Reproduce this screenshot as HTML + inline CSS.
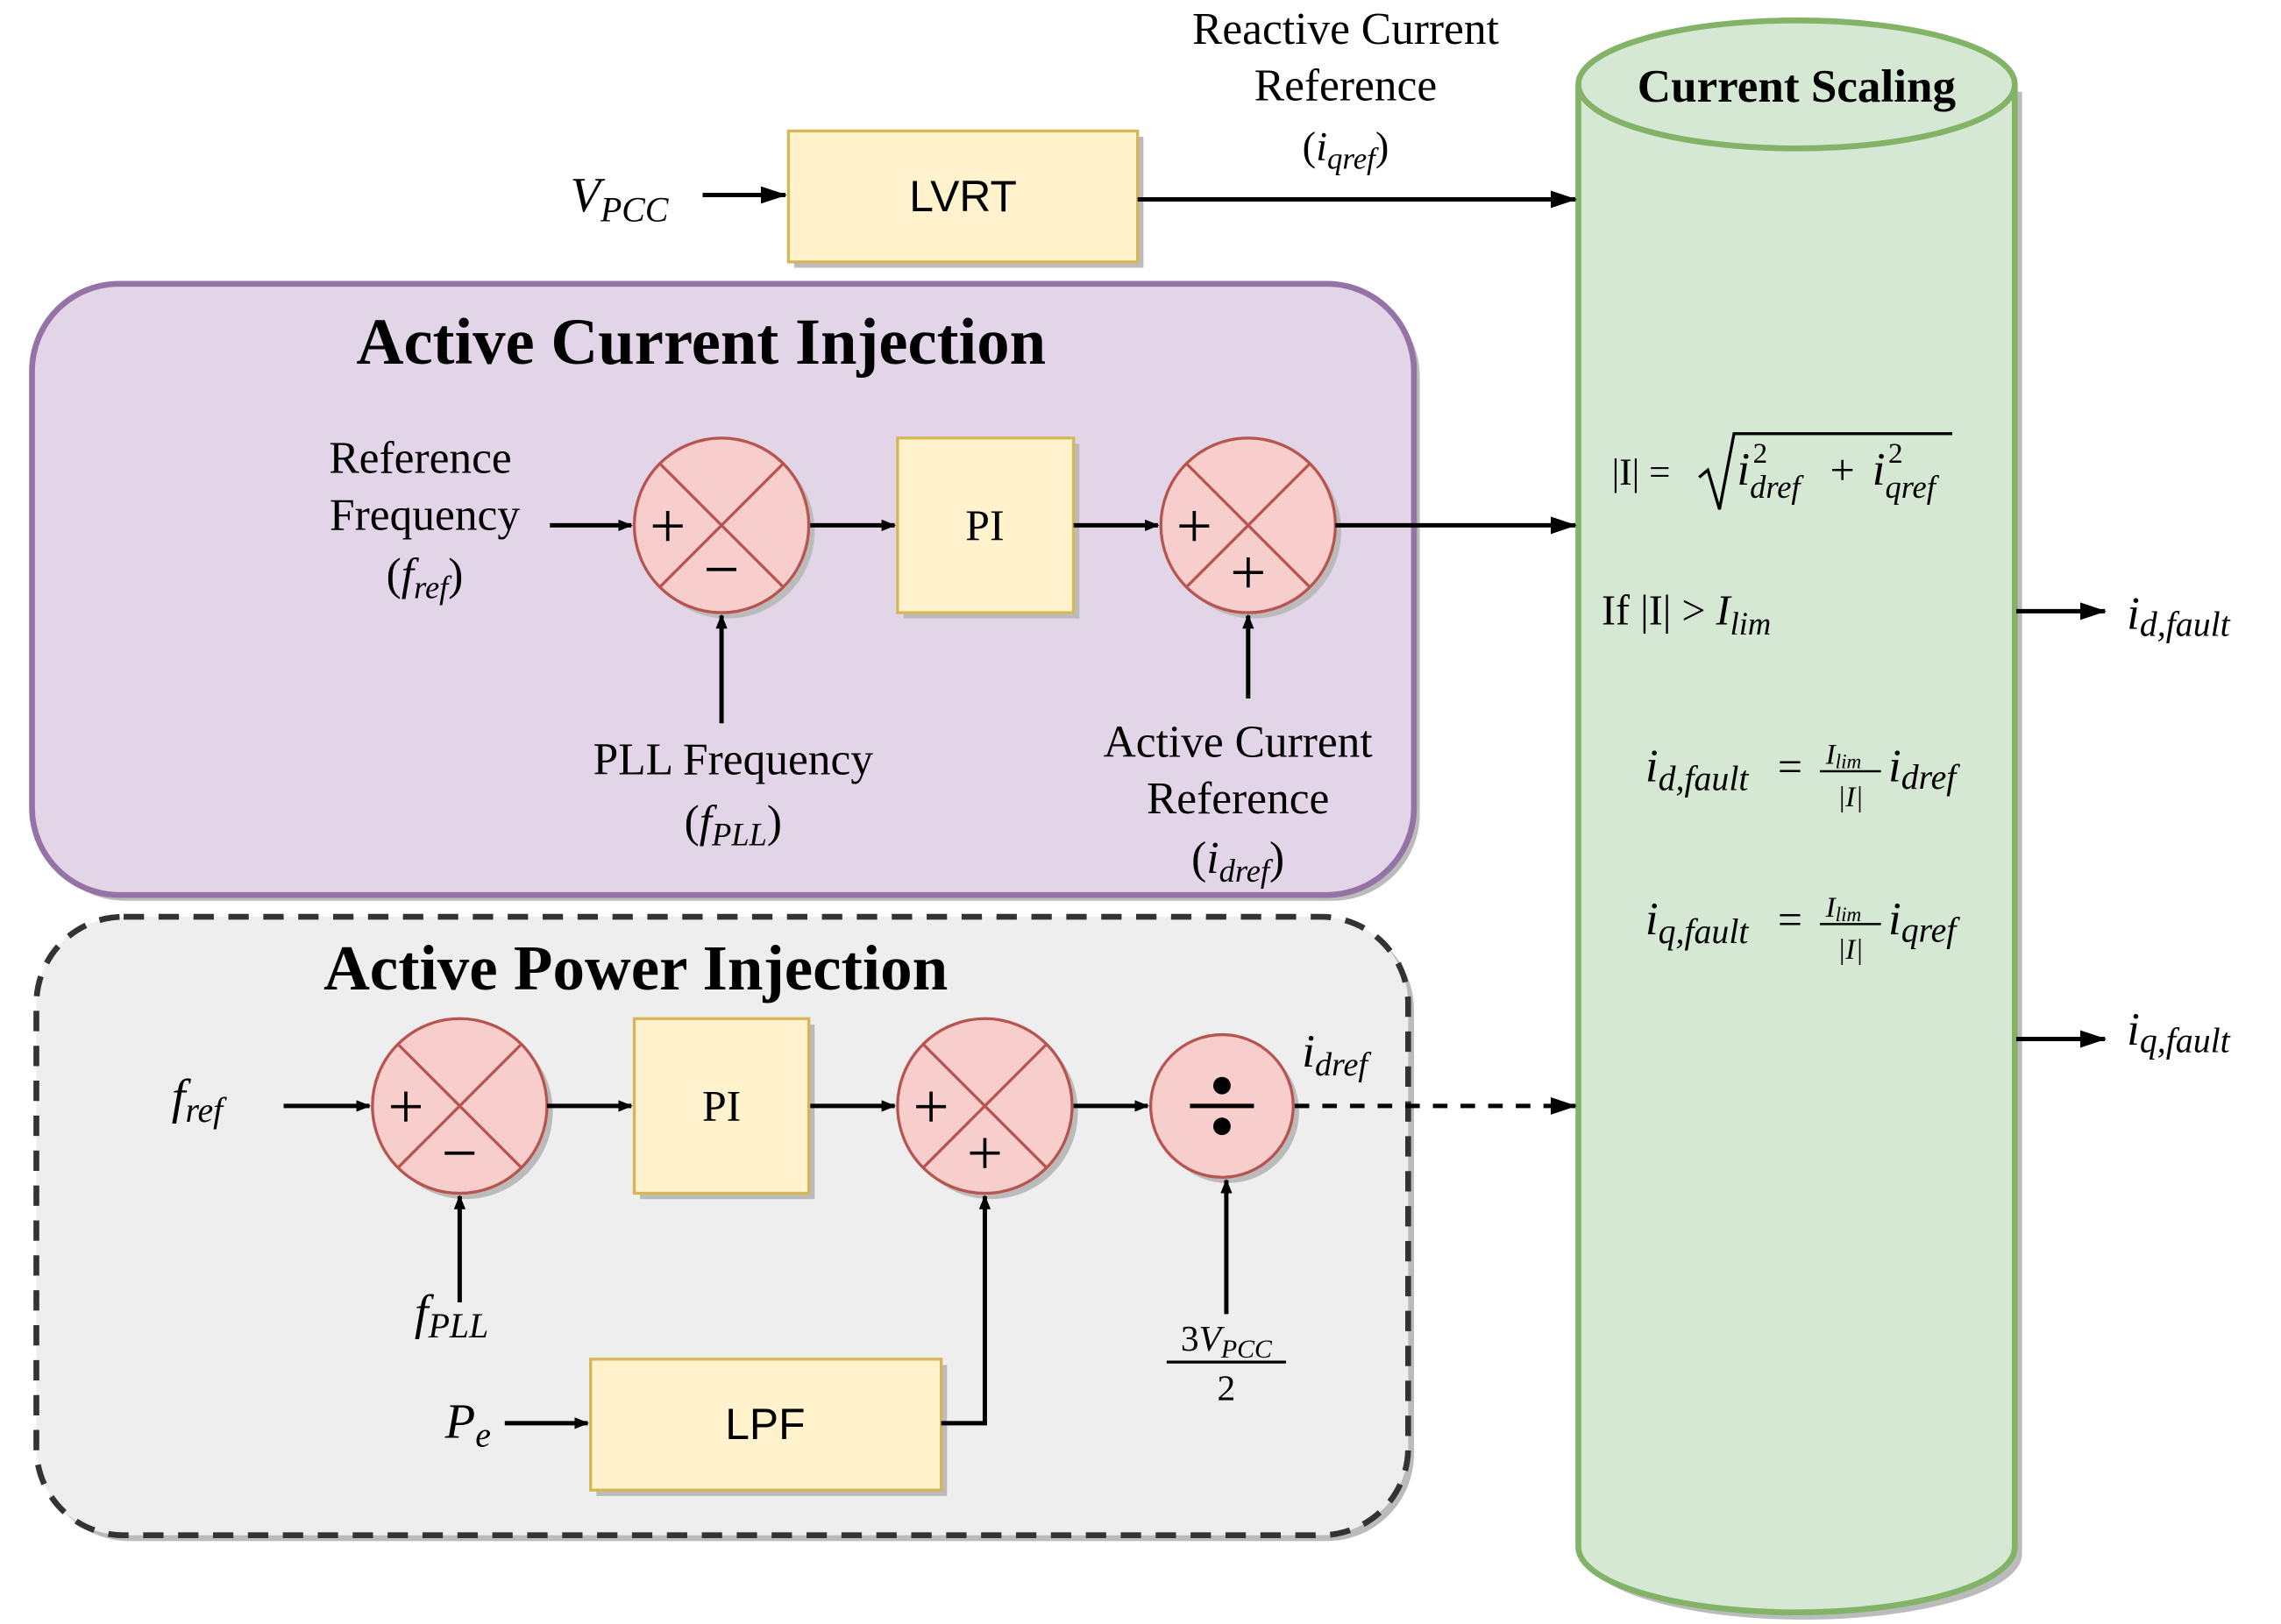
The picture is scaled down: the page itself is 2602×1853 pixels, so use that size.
<!DOCTYPE html>
<html><head><meta charset="utf-8"><style>
html,body{margin:0;padding:0;background:#fff}
svg{display:block}
.s{font-family:"Liberation Serif",serif;fill:#000}
.a{font-family:"Liberation Sans",sans-serif;fill:#000}
.i{font-family:"Liberation Serif",serif;font-style:italic;fill:#000}
</style></head><body>
<svg width="2602" height="1853" viewBox="0 0 1568 1116" preserveAspectRatio="none" xmlns="http://www.w3.org/2000/svg">
<defs>
<marker id="ar" markerWidth="10" markerHeight="8" refX="9" refY="4" orient="auto" markerUnits="userSpaceOnUse"><path d="M0,0 L10,4 L0,8 Z" fill="#000"/></marker>
<marker id="ar2" markerWidth="18" markerHeight="12" refX="17" refY="6" orient="auto" markerUnits="userSpaceOnUse"><path d="M0,0 L18,6 L0,12 Z" fill="#000"/></marker>
</defs>
<rect width="1568" height="1116" fill="#fff"/>

<!-- Cylinder -->
<g transform="translate(5,5)" fill="#bbb"><path d="M1085,58 L1085,1063 A150,45 0 0 0 1385,1063 L1385,58 Z"/></g>
<path d="M1085,58 L1085,1063 A150,45 0 0 0 1385,1063 L1385,58" fill="#d5e8d4" stroke="#82b366" stroke-width="4"/>
<ellipse cx="1235" cy="58" rx="150" ry="44" fill="#d5e8d4" stroke="#82b366" stroke-width="4"/>
<text x="1235" y="70" text-anchor="middle" class="s" font-size="32" font-weight="bold">Current Scaling</text>

<!-- LVRT -->
<rect x="546" y="94" width="240" height="90" fill="#bbb"/>
<rect x="542" y="90" width="240" height="90" fill="#fff2cc" stroke="#d6b656" stroke-width="2"/>
<text x="662" y="145" text-anchor="middle" class="a" font-size="30">LVRT</text>
<text x="392" y="145" class="i" font-size="34">V<tspan font-size="24" dy="7">PCC</tspan></text>
<line x1="483" y1="134" x2="540" y2="134" stroke="#000" stroke-width="3" marker-end="url(#ar2)"/>
<line x1="782" y1="137" x2="1083" y2="137" stroke="#000" stroke-width="3" marker-end="url(#ar2)"/>
<text x="925" y="30" text-anchor="middle" class="s" font-size="31">Reactive Current</text>
<text x="925" y="69" text-anchor="middle" class="s" font-size="31">Reference</text>
<text x="925" y="110" text-anchor="middle" class="s" font-size="28">(<tspan font-style="italic">i</tspan><tspan font-style="italic" font-size="21" dy="6">qref</tspan><tspan dy="-6">)</tspan></text>

<!-- Purple box -->
<rect x="26" y="199" width="950" height="420" rx="60" fill="#bbb"/>
<rect x="22" y="195" width="950" height="420" rx="60" fill="#e1d5e7" stroke="#9673a6" stroke-width="4"/>
<text x="482" y="250" text-anchor="middle" class="s" font-size="45" font-weight="bold">Active Current Injection</text>

<!-- Gray dashed box -->
<rect x="29" y="634" width="943" height="425" rx="60" fill="#bbb"/>
<rect x="25" y="630" width="943" height="425" rx="60" fill="#eeeeee" stroke="#333" stroke-width="4" stroke-dasharray="14,10"/>
<text x="437" y="680" text-anchor="middle" class="s" font-size="44" font-weight="bold">Active Power Injection</text>

<!-- sum circles -->
<g stroke="#b85450" stroke-width="2" fill="#f8cecc">
<circle cx="500" cy="365" r="60" fill="#bbb" stroke="none"/><circle cx="496" cy="361" r="60"/>
<line x1="453.6" y1="318.6" x2="538.4" y2="403.4"/><line x1="538.4" y1="318.6" x2="453.6" y2="403.4"/>
<circle cx="862" cy="365" r="60" fill="#bbb" stroke="none"/><circle cx="858" cy="361" r="60"/>
<line x1="815.6" y1="318.6" x2="900.4" y2="403.4"/><line x1="900.4" y1="318.6" x2="815.6" y2="403.4"/>
<circle cx="320" cy="764" r="60" fill="#bbb" stroke="none"/><circle cx="316" cy="760" r="60"/>
<line x1="273.6" y1="717.6" x2="358.4" y2="802.4"/><line x1="358.4" y1="717.6" x2="273.6" y2="802.4"/>
<circle cx="681" cy="764" r="60" fill="#bbb" stroke="none"/><circle cx="677" cy="760" r="60"/>
<line x1="634.6" y1="717.6" x2="719.4" y2="802.4"/><line x1="719.4" y1="717.6" x2="634.6" y2="802.4"/>
<circle cx="844" cy="764" r="49" fill="#bbb" stroke="none"/><circle cx="840" cy="760" r="49"/>
</g>
<g class="s" font-size="44" text-anchor="middle">
<text x="459" y="376">+</text><text x="496" y="406">−</text>
<text x="821" y="376">+</text><text x="858" y="408">+</text>
<text x="279" y="775">+</text><text x="316" y="807">−</text>
<text x="640" y="775">+</text><text x="677" y="807">+</text>
</g>
<line x1="818" y1="760" x2="862" y2="760" stroke="#000" stroke-width="3"/>
<circle cx="840" cy="746" r="6"/><circle cx="840" cy="774" r="6"/>

<!-- PI boxes -->
<rect x="621" y="305" width="121" height="120" fill="#bbb"/>
<rect x="617" y="301" width="121" height="120" fill="#fff2cc" stroke="#d6b656" stroke-width="2"/>
<text x="677" y="371" text-anchor="middle" class="s" font-size="30">PI</text>
<rect x="440" y="704" width="120" height="120" fill="#bbb"/>
<rect x="436" y="700" width="120" height="120" fill="#fff2cc" stroke="#d6b656" stroke-width="2"/>
<text x="496" y="770" text-anchor="middle" class="s" font-size="30">PI</text>
<rect x="410" y="938" width="241" height="90" fill="#bbb"/>
<rect x="406" y="934" width="241" height="90" fill="#fff2cc" stroke="#d6b656" stroke-width="2"/>
<text x="526" y="989" text-anchor="middle" class="a" font-size="30">LPF</text>

<!-- arrows -->
<g stroke="#000" stroke-width="3" fill="none">
<line x1="378" y1="361" x2="434" y2="361" marker-end="url(#ar)"/>
<line x1="557" y1="361" x2="615" y2="361" marker-end="url(#ar)"/>
<line x1="738" y1="361" x2="796" y2="361" marker-end="url(#ar)"/>
<line x1="918" y1="361" x2="1083" y2="361" marker-end="url(#ar2)"/>
<line x1="496" y1="497" x2="496" y2="423" marker-end="url(#ar)"/>
<line x1="858" y1="480" x2="858" y2="423" marker-end="url(#ar)"/>
<line x1="195" y1="760" x2="254" y2="760" marker-end="url(#ar)"/>
<line x1="376" y1="760" x2="434" y2="760" marker-end="url(#ar)"/>
<line x1="557" y1="760" x2="615" y2="760" marker-end="url(#ar)"/>
<line x1="738" y1="760" x2="789" y2="760" marker-end="url(#ar)"/>
<line x1="316" y1="895" x2="316" y2="822" marker-end="url(#ar)"/>
<line x1="347" y1="978" x2="404" y2="978" marker-end="url(#ar)"/>
<polyline points="647,978 677,978 677,822" marker-end="url(#ar)"/>
<line x1="843" y1="903" x2="843" y2="811" marker-end="url(#ar)"/>
<line x1="890" y1="760" x2="1083" y2="760" stroke-dasharray="10,9" marker-end="url(#ar2)"/>
<line x1="1386" y1="420" x2="1447" y2="420" marker-end="url(#ar2)"/>
<line x1="1386" y1="714" x2="1447" y2="714" marker-end="url(#ar2)"/>
</g>

<!-- labels -->
<g class="s" font-size="31" text-anchor="middle">
<text x="289" y="325">Reference</text>
<text x="292" y="364">Frequency</text>
<text x="292" y="405">(<tspan font-style="italic">f</tspan><tspan font-style="italic" font-size="22" dy="6">ref</tspan><tspan dy="-6">)</tspan></text>
<text x="504" y="532">PLL  Frequency</text>
<text x="504" y="575">(<tspan font-style="italic">f</tspan><tspan font-style="italic" font-size="22" dy="6">PLL</tspan><tspan dy="-6">)</tspan></text>
<text x="851" y="520">Active Current</text>
<text x="851" y="559">Reference</text>
<text x="851" y="600">(<tspan font-style="italic">i</tspan><tspan font-style="italic" font-size="22" dy="6">dref</tspan><tspan dy="-6">)</tspan></text>
</g>
<text x="118" y="765" class="i" font-size="34">f<tspan font-size="24" dy="6">ref</tspan></text>
<text x="285" y="913" class="i" font-size="34">f<tspan font-size="24" dy="6">PLL</tspan></text>
<text x="306" y="988" class="i" font-size="34">P<tspan font-size="24" dy="6">e</tspan></text>
<text x="895" y="733" class="i" font-size="32">i<tspan font-size="23" dy="6">dref</tspan></text>
<text x="843" y="928" text-anchor="middle" class="s" font-size="25">3<tspan font-style="italic">V</tspan><tspan font-style="italic" font-size="18" dy="5">PCC</tspan></text>
<line x1="802" y1="936" x2="884" y2="936" stroke="#000" stroke-width="2"/>
<text x="843" y="962" text-anchor="middle" class="s" font-size="25">2</text>

<!-- equations -->
<text x="1108" y="333" class="s" font-size="26">|I| =</text>
<path d="M1168,328 L1174,323 L1182,350 L1192,298 L1342,298" stroke="#000" stroke-width="2" fill="none"/>
<text x="1194" y="333" class="i" font-size="32">i<tspan font-size="22" dy="9">dref</tspan></text>
<text x="1205" y="318" class="s" font-size="20">2</text>
<text x="1258" y="333" class="s" font-size="30">+</text>
<text x="1287" y="333" class="i" font-size="32">i<tspan font-size="22" dy="9">qref</tspan></text>
<text x="1298" y="318" class="s" font-size="20">2</text>
<text x="1101" y="429" class="s" font-size="29">If |I| &gt; <tspan font-style="italic">I</tspan><tspan font-style="italic" font-size="22" dy="7">lim</tspan></text>

<text x="1131" y="537" class="i" font-size="32">i<tspan font-size="24" dy="6">d,fault</tspan></text>
<text x="1222" y="537" class="s" font-size="30">=</text>
<text x="1255" y="525" class="i" font-size="20">I<tspan font-size="14" dy="3">lim</tspan></text>
<line x1="1251" y1="530" x2="1293" y2="530" stroke="#000" stroke-width="1.5"/>
<text x="1272" y="554" text-anchor="middle" class="i" font-size="20">|I|</text>
<text x="1298" y="537" class="i" font-size="32">i<tspan font-size="24" dy="5">dref</tspan></text>

<text x="1131" y="642" class="i" font-size="32">i<tspan font-size="24" dy="6">q,fault</tspan></text>
<text x="1222" y="642" class="s" font-size="30">=</text>
<text x="1255" y="630" class="i" font-size="20">I<tspan font-size="14" dy="3">lim</tspan></text>
<line x1="1251" y1="635" x2="1293" y2="635" stroke="#000" stroke-width="1.5"/>
<text x="1272" y="659" text-anchor="middle" class="i" font-size="20">|I|</text>
<text x="1298" y="642" class="i" font-size="32">i<tspan font-size="24" dy="5">qref</tspan></text>

<text x="1462" y="432" class="i" font-size="32">i<tspan font-size="24" dy="5">d,fault</tspan></text>
<text x="1462" y="718" class="i" font-size="32">i<tspan font-size="24" dy="5">q,fault</tspan></text>
</svg>
</body></html>
